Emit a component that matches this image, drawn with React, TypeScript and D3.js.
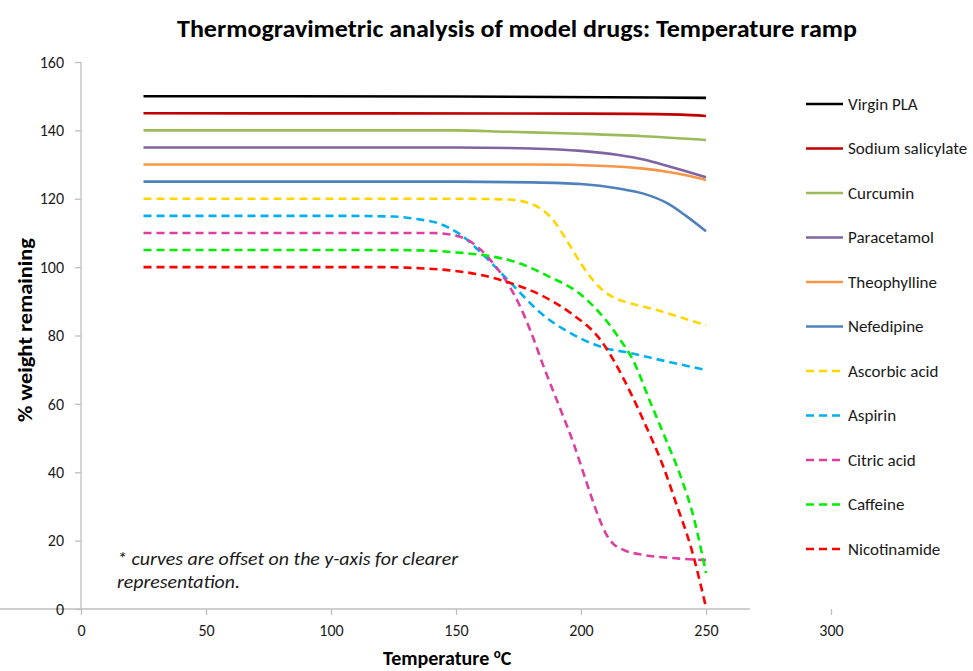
import React, { useRef, useEffect } from "react";
import * as d3 from "d3";

type Pt = [number, number];

// temperature (°C), % weight remaining (offset per curve)
const virginPLA: Pt[] = [[25, 150], [150, 149.9], [250, 149.5]];
const sodiumSalicylate: Pt[] = [[25, 145], [200, 144.9], [240, 144.6], [250, 144.2]];
const curcumin: Pt[] = [[25, 140], [150, 140], [170, 139.6], [200, 139], [225, 138.3], [250, 137.2]];
const paracetamol: Pt[] = [[25, 135], [150, 135], [180, 134.7], [200, 134], [215, 132.8], [225, 131.5], [235, 129.5], [243, 127.8], [250, 126.3]];
const theophylline: Pt[] = [[25, 130], [180, 130], [210, 129.6], [225, 128.8], [235, 127.8], [243, 126.7], [250, 125.5]];
const nefedipine: Pt[] = [[25, 125], [150, 125], [180, 124.8], [200, 124.3], [215, 123], [225, 121.5], [235, 118.5], [242, 115], [250, 110.5]];
const ascorbicAcid: Pt[] = [[25, 120], [150, 120], [170, 119.8], [178, 119], [183, 117.5], [188, 114.5], [195, 107], [200, 101], [205, 96], [210, 92.5], [215, 90.5], [222, 89], [230, 87.5], [240, 85.3], [250, 83]];
const aspirin: Pt[] = [[25, 115], [100, 115], [125, 114.8], [135, 114], [143, 112.8], [152, 109.4], [161, 103.5], [172, 95.3], [184, 86.5], [196, 80.6], [208, 76.7], [220, 74.8], [232, 72.8], [250, 69.9]];
const citricAcid: Pt[] = [[25, 110], [140, 110], [148, 109.5], [155, 107.8], [160, 105], [165, 101], [170, 96], [175, 89.5], [180, 81], [185, 71], [192, 58], [197, 48.5], [202, 37.5], [207, 27], [210, 22], [213, 19], [217, 17.3], [225, 15.8], [235, 15], [250, 14.3]];
const caffeine: Pt[] = [[25, 105], [120, 105], [140, 104.8], [150, 104.3], [163, 103.3], [175, 101.2], [187, 97.3], [199, 92.5], [207, 87], [215, 79.5], [221, 72.5], [228, 60], [234, 49.5], [240, 38.5], [245, 27], [250, 10.5]];
const nicotinamide: Pt[] = [[25, 100], [120, 100], [135, 99.7], [144, 99.3], [160, 97.7], [172, 95.3], [184, 91.8], [196, 86.5], [208, 78.5], [213, 72.8], [220, 63], [226, 53.5], [233, 41.5], [238, 31], [244, 18], [250, 0.5]];

const seriesNames = ["Virgin PLA", "Sodium salicylate", "Curcumin", "Paracetamol", "Theophylline", "Nefedipine", "Ascorbic acid", "Aspirin", "Citric acid", "Caffeine", "Nicotinamide"];
const seriesData = [virginPLA, sodiumSalicylate, curcumin, paracetamol, theophylline, nefedipine, ascorbicAcid, aspirin, citricAcid, caffeine, nicotinamide];
const seriesColors = ["#000000", "#C00000", "#9BBB59", "#8064A2", "#F79646", "#4F81BD", "#FFD700", "#00B0F0", "#DD3FA0", "#00EE00", "#FF0000"];
const seriesDashed = [false, false, false, false, false, false, true, true, true, true, true];

const xTicks = [0, 50, 100, 150, 200, 250, 300];
const yTicks = [0, 20, 40, 60, 80, 100, 120, 140, 160];

const font = "Carlito, Calibri, Lato, sans-serif";

const App = () => {
  const node: any = useRef();

  useEffect(() => {
    const width = 973,
      height = 671;
    const svg = d3.select(node.current).attr("width", width).attr("height", height);
    svg.selectAll("*").remove();

    const x = d3.scaleLinear().domain([0, 300]).range([81, 831]);
    const y = d3.scaleLinear().domain([0, 160]).range([609, 62]);
    const axisColor = "#BFBFBF";

    // axes
    const xAxis = svg
      .append("g")
      .attr("transform", `translate(0,${y(0)})`)
      .call(d3.axisBottom(x).tickValues(xTicks).tickSize(6).tickPadding(10));
    const yAxis = svg
      .append("g")
      .attr("transform", `translate(${x(0)},0)`)
      .call(d3.axisLeft(y).tickValues(yTicks).tickSize(6).tickPadding(11));
    [xAxis, yAxis].forEach(a => {
      a.select(".domain").attr("stroke", axisColor).attr("stroke-width", 1.3);
      a.selectAll(".tick line").attr("stroke", axisColor).attr("stroke-width", 1.3);
      a.selectAll(".tick text")
        .attr("fill", "#1a1a1a")
        .style("font-family", font)
        .style("font-size", "16px");
    });
    yAxis.select(".domain").attr("d", `M0,${y(160)}V${y(0)}`);
    xAxis.select(".domain").attr("d", `M0,0H${x(300) - x(0)}`);

    // lines
    const line = d3
      .line<Pt>()
      .x(d => x(d[0]))
      .y(d => y(d[1]))
      .curve(d3.curveMonotoneX);

    svg
      .append("g")
      .selectAll("path")
      .data(seriesData)
      .enter()
      .append("path")
      .attr("d", d => line(d))
      .attr("fill", "none")
      .attr("stroke", (_, i) => seriesColors[i])
      .attr("stroke-width", 2.6)
      .attr("stroke-dasharray", (_, i) => (seriesDashed[i] ? "8,5" : null));

    // legend
    const legend = svg.append("g");
    seriesNames.forEach((name, i) => {
      const ly = 104 + i * 44.5;
      legend
        .append("line")
        .attr("x1", 806)
        .attr("x2", 843)
        .attr("y1", ly)
        .attr("y2", ly)
        .attr("stroke", seriesColors[i])
        .attr("stroke-width", 2.6)
        .attr("stroke-dasharray", seriesDashed[i] ? "8,5" : null);
      legend
        .append("text")
        .attr("x", 848)
        .attr("y", ly + 5.5)
        .attr("fill", "#1a1a1a")
        .style("font-family", font)
        .style("font-size", "17px")
        .text(name);
    });

    // title
    svg
      .append("text")
      .attr("x", 177)
      .attr("y", 37)
      .attr("textLength", 680)
      .attr("lengthAdjust", "spacingAndGlyphs")
      .style("font-family", font)
      .style("font-weight", "bold")
      .style("font-size", "24px")
      .text("Thermogravimetric analysis of model drugs: Temperature ramp");

    // axis titles
    svg
      .append("text")
      .attr("transform", `translate(32,422) rotate(-90)`)
      .attr("textLength", 184)
      .attr("lengthAdjust", "spacingAndGlyphs")
      .style("font-family", font)
      .style("font-weight", "bold")
      .style("font-size", "20px")
      .text("% weight remaining");

    const xt = svg
      .append("text")
      .attr("x", 383)
      .attr("y", 665)
      .style("font-family", font)
      .style("font-weight", "bold")
      .style("font-size", "20px");
    xt.append("tspan").text("Temperature ");
    xt.append("tspan").attr("dy", -7).style("font-size", "13px").text("o");
    xt.append("tspan").attr("dy", 7).text("C");

    // note
    const note = svg
      .append("text")
      .style("font-family", font)
      .style("font-style", "italic")
      .style("font-size", "19px")
      .attr("fill", "#1a1a1a");
    note
      .append("tspan")
      .attr("x", 117)
      .attr("y", 565)
      .attr("textLength", 341)
      .attr("lengthAdjust", "spacingAndGlyphs")
      .text("* curves are offset on the y-axis  for clearer");
    note
      .append("tspan")
      .attr("x", 117)
      .attr("y", 588)
      .attr("textLength", 123)
      .attr("lengthAdjust", "spacingAndGlyphs")
      .text("representation.");
  }, []);

  return <svg ref={node} style={{ position: "absolute", left: 0, top: 0 }}></svg>;
};

export default App;
